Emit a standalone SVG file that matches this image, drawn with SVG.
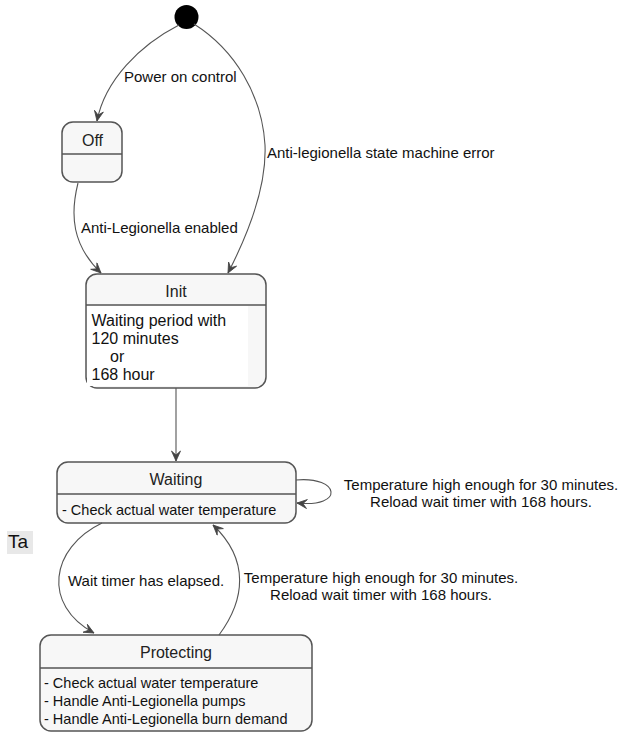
<svg xmlns="http://www.w3.org/2000/svg" width="622" height="733" viewBox="0 0 622 733">
<defs>
<style>
text{font-family:"Liberation Sans",Arial,sans-serif;fill:#111}
.st{fill:#f7f7f7;stroke:#555;stroke-width:1.5}
.div{stroke:#555;stroke-width:1.5}
.ttl{font-size:16px;text-anchor:middle;fill:#222}
.body{font-size:14.5px}
.lbl{font-size:15px}
.mid{text-anchor:middle}
.edge{fill:none;stroke:#555;stroke-width:1.1;marker-end:url(#arr)}
</style>
<marker id="arr" viewBox="0 0 12 10" refX="11" refY="5" markerWidth="12" markerHeight="10" markerUnits="userSpaceOnUse" orient="auto">
<path d="M11,5 L1,0.5 L5,5 L1,9.5 Z" fill="#444" stroke="#444" stroke-width="0.8" stroke-linejoin="round"/>
</marker>
</defs>
<rect width="622" height="733" fill="#fff"/>

<g id="start"><circle cx="186.5" cy="17" r="12" fill="#000"/></g>

<g id="off">
<rect class="st" x="62" y="122" width="60" height="60" rx="11"/>
<line class="div" x1="62" y1="154" x2="122" y2="154"/>
<text class="ttl" x="92.5" y="146">Off</text>
</g>

<g id="init">
<rect class="st" x="86" y="274" width="180" height="114" rx="11"/>
<rect x="87" y="306" width="161" height="80" fill="#fff"/>
<line class="div" x1="86" y1="305" x2="266" y2="305"/>
<text class="ttl" x="176" y="297">Init</text>
<text x="91.5" y="326" font-size="16">Waiting period with</text>
<text x="91.5" y="344" font-size="16">120 minutes</text>
<text x="110" y="362" font-size="16">or</text>
<text x="91.5" y="380" font-size="16">168 hour</text>
</g>

<g id="waiting">
<rect class="st" x="57" y="462" width="239" height="61" rx="11"/>
<line class="div" x1="57" y1="494" x2="296" y2="494"/>
<text class="ttl" x="176" y="485">Waiting</text>
<text class="body" x="62" y="515">- Check actual water temperature</text>
</g>

<g id="protecting">
<rect class="st" x="40" y="635" width="272" height="96" rx="11"/>
<line class="div" x1="40" y1="668" x2="312" y2="668"/>
<text class="ttl" x="176" y="658">Protecting</text>
<text class="body" x="44" y="688">- Check actual water temperature</text>
<text class="body" x="44" y="706">- Handle Anti-Legionella pumps</text>
<text class="body" x="44" y="724">- Handle Anti-Legionella burn demand</text>
</g>

<g id="ta">
<rect x="7" y="531" width="26" height="23" fill="#e8e8e8"/>
<text x="8" y="548" font-size="19" fill="#000">Ta</text>
</g>

<g id="connectors">
<path class="edge" d="M179,25 C140,45 105,80 97,121"/>
<text class="lbl" x="124" y="82">Power on control</text>

<path class="edge" d="M194,24 C235,50 262,95 265,145 C267,190 245,240 228,273"/>
<text class="lbl" x="267" y="158">Anti-legionella state machine error</text>

<path class="edge" d="M78,183 C70,215 72,245 101,273"/>
<text class="lbl" x="81" y="233">Anti-Legionella enabled</text>

<path class="edge" d="M176,388 L176,461"/>

<path class="edge" d="M296,480 C340,476 345,508 297,503"/>
<text class="lbl mid" x="481" y="490">Temperature high enough for 30 minutes.</text>
<text class="lbl mid" x="481" y="507">Reload wait timer with 168 hours.</text>

<path class="edge" d="M102,523 C50,548 42,605 94,633"/>
<text class="lbl" x="68" y="586">Wait timer has elapsed.</text>

<path class="edge" d="M219,635 C245,600 250,560 213,525"/>
<text class="lbl mid" x="381" y="583">Temperature high enough for 30 minutes.</text>
<text class="lbl mid" x="381" y="600">Reload wait timer with 168 hours.</text>
</g>
</svg>
